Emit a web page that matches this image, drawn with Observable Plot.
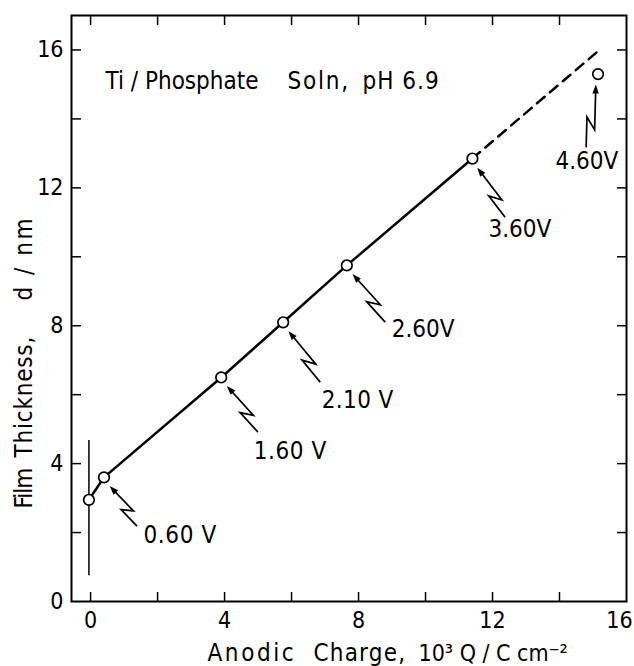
<!DOCTYPE html>
<html><head><meta charset="utf-8">
<script src="https://cdn.jsdelivr.net/npm/d3@7"></script>
<script src="https://cdn.jsdelivr.net/npm/@observablehq/plot@0.6"></script>
<style>html,body{margin:0;padding:0;background:#fff} svg{display:block}</style>
</head><body><div id="chart"></div>
<script>
// measured points: anodic charge (10^3 Q / C cm^-2) and film thickness (nm)
const charge    = [-0.05, 0.40, 3.90, 5.75, 7.65, 11.40, 15.15];
const thickness = [ 2.95, 3.60, 6.50, 8.10, 9.75, 12.85, 15.30];
// potentials labelling points 1..6
const potentials     = ["0.60 V", "1.60 V", "2.10 V", "2.60V", "3.60V", "4.60V"];
const labelCharge    = [1.58, 4.87, 6.90, 8.99, 11.88, 13.88];
const labelThickness = [1.93, 4.35, 5.84, 7.91, 10.81, 12.78];
const arrowTailCharge    = [1.40, 5.01, 6.87, 8.81, 12.39, 14.81];
const arrowTailThickness = [2.17, 4.90, 6.35, 8.09, 11.13, 13.16];
// extrapolated (dashed) part of the line
const dashCharge    = [11.40, 15.25];
const dashThickness = [12.85, 16.05];
// error bar on first point
const errorCharge = [-0.05];
const errorLow    = [0.75];
const errorHigh   = [4.67];
// ticks
const xMajorTicks = [0, 4, 8, 12];
const xLastTick   = [16];
const yMajorTicks = [0, 4, 8, 12, 16];
const xMinorTicks = [0, 2, 4, 6, 8, 10, 12, 14];
const yMinorTicks = [2, 4, 6, 8, 10, 12, 14, 16];
const titleParts  = ["Ti / Phosphate", "Soln,", "pH 6.9"];
const xTitleParts = ["Anodic", "Charge,", "10\u00b3 Q / C cm\u207b\u00b2"];
const yTitleParts = ["Film", "Thickness,", "d / nm"];

const FONT = "'DejaVu Sans Condensed', 'DejaVu Sans', sans-serif";
// letter spacing (px) per text, applied after rendering
const letterSpacing = {"Anodic": 2.6, "Charge,": 1.2, "Soln,": 1.8, "pH 6.9": 1, "Film": -1, "Thickness,": 0.8, "d / nm": 2.5, "0.60 V": 0.6, "1.60 V": 0.6, "2.10 V": 0.4};

const points = charge.map((c, i) => ({charge: c, thickness: thickness[i]}));
const solid = points.slice(0, 6);
const dashed = dashCharge.map((c, i) => ({charge: c, thickness: dashThickness[i]}));
const labels = potentials.map((p, i) => ({text: p, charge: labelCharge[i], thickness: labelThickness[i]}));

// zig-zag ("lightning") arrows from label to point, drawn with Plot's scales
function lightningArrows(index, scales) {
  const g = d3.create("svg:g").attr("fill", "black").attr("stroke", "black");
  for (let i = 0; i < arrowTailCharge.length; i++) {
    const k = i + 1;
    const cx = scales.x(charge[k]), cy = scales.y(thickness[k]);
    const tx = scales.x(arrowTailCharge[i]), ty = scales.y(arrowTailThickness[i]);
    let ux = tx - cx, uy = ty - cy; const dd = Math.hypot(ux, uy); ux /= dd; uy /= dd;
    const px = cx + ux * 11, py = cy + uy * 11;
    const Dx = px - tx, Dy = py - ty; const L = Math.hypot(Dx, Dy);
    const w = 8; const S = Math.sqrt(L * L - w * w);
    const vx = (S * Dx + w * Dy) / (L * L), vy = (S * Dy - w * Dx) / (L * L);
    const nx = -vy, ny = vx;
    const ax = tx + 0.48 * S * vx, ay = ty + 0.48 * S * vy;
    const bx = ax - 0.2 * S * vx + w * nx, by = ay - 0.2 * S * vy + w * ny;
    const hl = 9, hw = 3.2;
    const hx = px - hl * vx, hy = py - hl * vy;
    g.append("path").attr("fill", "none").attr("stroke-width", 1.7)
      .attr("stroke-linejoin", "miter")
      .attr("d", `M${tx},${ty}L${ax},${ay}L${bx},${by}L${hx + vx},${hy + vy}`);
    g.append("path").attr("stroke", "none")
      .attr("d", `M${px},${py}L${hx + hw * nx},${hy + hw * ny}L${hx - hw * nx},${hy - hw * ny}Z`);
  }
  return g.node();
}

const plot = Plot.plot({
  width: 634, height: 666,
  marginLeft: 71, marginRight: 8, marginTop: 15, marginBottom: 65,
  x: {domain: [-0.57, 16]},
  y: {domain: [0, 17]},
  style: {fontFamily: FONT, fontSize: "23px", color: "black", background: "white"},
  marks: [
    Plot.axisX({ticks: xMinorTicks, tickSize: -9, tickFormat: () => "", label: null, strokeWidth: 1.5}),
    Plot.axisX({anchor: "top", ticks: xMinorTicks, tickSize: -9, tickFormat: () => "", label: null, strokeWidth: 1.5}),
    Plot.axisY({ticks: yMinorTicks, tickSize: -10, tickFormat: () => "", label: null, strokeWidth: 1.5}),
    Plot.axisY({anchor: "right", ticks: yMinorTicks, tickSize: -10, tickFormat: () => "", label: null, strokeWidth: 1.5}),
    Plot.axisX({ticks: xMajorTicks, tickSize: 0, tickPadding: 10, label: null, fontSize: 23}),
    Plot.axisX({ticks: xLastTick, tickSize: 0, tickPadding: 10, label: null, fontSize: 23, dx: -7}),
    Plot.axisY({ticks: yMajorTicks, tickSize: 0, tickPadding: 8, label: null, fontSize: 23}),
    Plot.frame({strokeWidth: 2}),
    Plot.ruleX(errorCharge, {x: errorCharge, y1: errorLow, y2: errorHigh, strokeWidth: 1.5}),
    Plot.line(solid, {x: "charge", y: "thickness", strokeWidth: 2.5}),
    Plot.line(dashed, {x: "charge", y: "thickness", strokeWidth: 2.5, strokeDasharray: "10,7"}),
    Plot.dot(points, {x: "charge", y: "thickness", r: 5.3, fill: "white", stroke: "black", strokeWidth: 1.7}),
    lightningArrows,
    Plot.text(labels, {x: "charge", y: "thickness", text: "text", textAnchor: "start", lineAnchor: "middle", fontSize: 24}),
    // title inside the frame
    Plot.text([titleParts[0]], {frameAnchor: "top-left", dx: 34, dy: 66, textAnchor: "start", lineAnchor: "middle", fontSize: 24}),
    Plot.text([titleParts[1]], {frameAnchor: "top-left", dx: 216, dy: 66, textAnchor: "start", lineAnchor: "middle", fontSize: 24}),
    Plot.text([titleParts[2]], {frameAnchor: "top-left", dx: 291, dy: 66, textAnchor: "start", lineAnchor: "middle", fontSize: 24}),
    // x-axis title
    Plot.text([xTitleParts[0]], {frameAnchor: "bottom-left", dx: 136, dy: 52, textAnchor: "start", lineAnchor: "middle", fontSize: 24}),
    Plot.text([xTitleParts[1]], {frameAnchor: "bottom-left", dx: 242, dy: 52, textAnchor: "start", lineAnchor: "middle", fontSize: 24}),
    Plot.text([xTitleParts[2]], {frameAnchor: "bottom-left", dx: 347, dy: 52, textAnchor: "start", lineAnchor: "middle", fontSize: 23}),
    // y-axis title
    Plot.text([yTitleParts[0]], {frameAnchor: "left", dx: -47, dy: 200, rotate: -90, textAnchor: "start", lineAnchor: "middle", fontSize: 24}),
    Plot.text([yTitleParts[1]], {frameAnchor: "left", dx: -47, dy: 149, rotate: -90, textAnchor: "start", lineAnchor: "middle", fontSize: 24}),
    Plot.text([yTitleParts[2]], {frameAnchor: "left", dx: -47, dy: -8, rotate: -90, textAnchor: "start", lineAnchor: "middle", fontSize: 24})
  ]
});
d3.select(plot).selectAll("text").each(function () {
  const s = letterSpacing[this.textContent];
  if (s) this.setAttribute("letter-spacing", s);
});
document.getElementById("chart").appendChild(plot);
</script>
</body></html>
